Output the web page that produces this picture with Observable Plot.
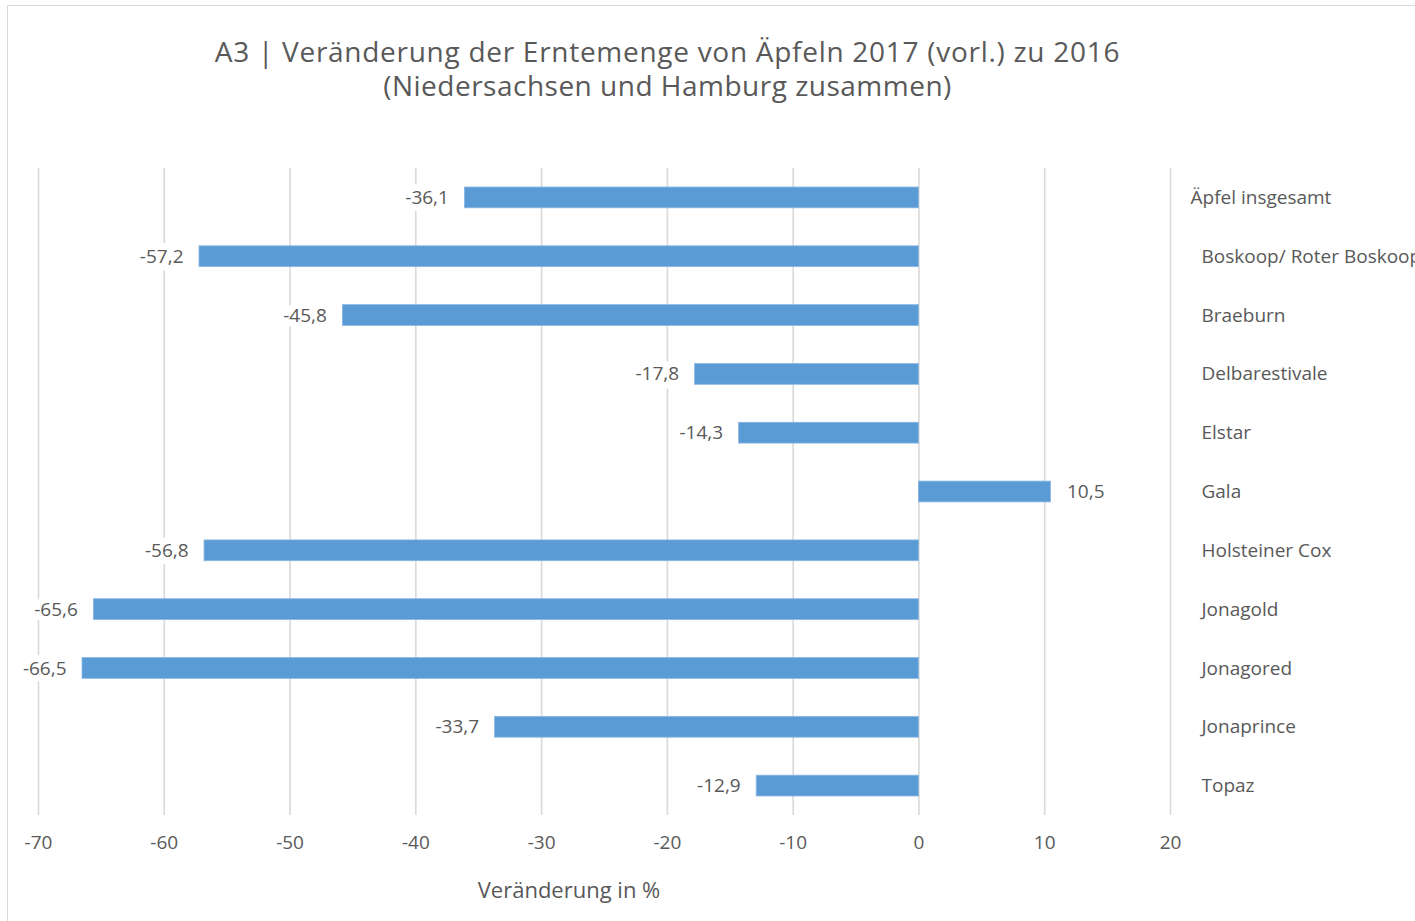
<!DOCTYPE html>
<html>
<head>
<meta charset="utf-8">
<script src="https://cdn.jsdelivr.net/npm/d3@7"></script>
<script src="https://cdn.jsdelivr.net/npm/@observablehq/plot@0.6"></script>
<style>
  html, body { margin: 0; padding: 0; background: #fff; overflow: hidden; }
  body { width: 1415px; height: 921px; position: relative; font-family: "Open Sans", Lato, sans-serif; color: #595959; }
  #frame { position: absolute; left: 7px; top: 5px; width: 1500px; height: 1000px; border: 1.5px solid #d9d9d9; box-sizing: border-box; }
  .title { position: absolute; left: 0; width: 1335px; height: 30px; text-align: center; font-size: 28px; line-height: 30px; color: #595959; white-space: nowrap; }
  #t1 { top: 36px; letter-spacing: 0.72px; }
  #t2 { top: 70px; letter-spacing: 0.5px; }
  #xlabel { position: absolute; left: 369px; width: 400px; top: 874px; text-align: center; font-size: 22px; color: #595959; }
  #chart { position: absolute; left: 0; top: 0; }
</style>
</head>
<body>
<div id="frame"></div>
<div id="chart"></div>
<div id="t1" class="title">A3 | Veränderung der Erntemenge von Äpfeln 2017 (vorl.) zu 2016</div>
<div id="t2" class="title">(Niedersachsen und Hamburg zusammen)</div>
<div id="xlabel">Veränderung in %</div>
<script>
const categories = ["Äpfel insgesamt", "Boskoop/ Roter Boskoop", "Braeburn", "Delbarestivale", "Elstar", "Gala", "Holsteiner Cox", "Jonagold", "Jonagored", "Jonaprince", "Topaz"];
const values = [-36.1, -57.2, -45.8, -17.8, -14.3, 10.5, -56.8, -65.6, -66.5, -33.7, -12.9];
const xTicks = [-70, -60, -50, -40, -30, -20, -10, 0, 10, 20];

const data = categories.map((c, i) => ({category: c, value: values[i], label: values[i].toFixed(1).replace(".", ",")}));
const textColor = "#595959";
const font = "'Open Sans', Lato, sans-serif";

const chart = Plot.plot({
  width: 1415,
  height: 921,
  marginLeft: 38,
  marginRight: 245,
  marginTop: 168,
  marginBottom: 106,
  style: {fontFamily: font, color: textColor, background: "transparent"},
  x: {domain: [-70, 20]},
  y: {domain: categories, padding: 0, round: false, axis: null},
  marks: [
    Plot.gridX(xTicks, {stroke: "#d9d9d9", strokeOpacity: 1, strokeWidth: 1.6}),
    Plot.axisX(xTicks, {tickSize: 0, tickPadding: 20, fontSize: 19, fill: textColor, tickFormat: d => String(d), label: null}),
    Plot.barX(data, {x: "value", y: "category", insetTop: 19, insetBottom: 19, fill: "#5b9bd5", stroke: "#8ab8e3", strokeWidth: 0.8}),
    Plot.text(data.filter(d => d.value < 0), {x: "value", y: "category", text: "label", textAnchor: "end", dx: -16, fontSize: 19, fill: textColor, stroke: "white", strokeWidth: 14, paintOrder: "stroke"}),
    Plot.text(data.filter(d => d.value >= 0), {x: "value", y: "category", text: "label", textAnchor: "start", dx: 16, fontSize: 19, fill: textColor, stroke: "white", strokeWidth: 14, paintOrder: "stroke"}),
    Plot.text(data.slice(0, 1), {y: "category", text: "category", frameAnchor: "right", textAnchor: "start", dx: 20, fontSize: 19, fill: textColor}),
    Plot.text(data.slice(1), {y: "category", text: "category", frameAnchor: "right", textAnchor: "start", dx: 31, fontSize: 19, fill: textColor})
  ]
});
document.getElementById("chart").appendChild(chart);
</script>
</body>
</html>
